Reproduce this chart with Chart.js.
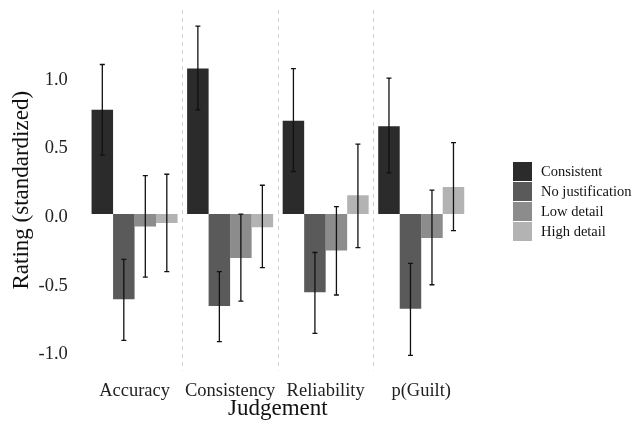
<!DOCTYPE html>
<html>
<head>
<meta charset="utf-8">
<script src="https://cdn.jsdelivr.net/npm/chart.js@4/dist/chart.umd.min.js"></script>
<style>
  html, body { margin: 0; padding: 0; background: #fff; }
  #wrap { width: 634px; height: 425px; }
</style>
</head>
<body>
<div id="wrap"><canvas id="ratingChart" width="634" height="425"></canvas></div>
<script>
const judgements = ["Accuracy", "Consistency", "Reliability", "p(Guilt)"];
const conditions = ["Consistent", "No justification", "Low detail", "High detail"];
const colors = ["#2b2b2b", "#5a5a5a", "#8c8c8c", "#b3b3b3"];

// mean ratings per condition, one value per judgement
const consistent = [0.76, 1.06, 0.68, 0.64];
const noJustification = [-0.62, -0.67, -0.57, -0.69];
const lowDetail = [-0.09, -0.32, -0.265, -0.175];
const highDetail = [-0.065, -0.097, 0.137, 0.197];

// error bar limits (low / high)
const consistentLow = [0.43, 0.76, 0.31, 0.30];
const consistentHigh = [1.09, 1.37, 1.06, 0.99];
const noJustLow = [-0.92, -0.93, -0.87, -1.03];
const noJustHigh = [-0.33, -0.42, -0.28, -0.36];
const lowDetailLow = [-0.46, -0.635, -0.59, -0.515];
const lowDetailHigh = [0.28, 0.0, 0.054, 0.175];
const highDetailLow = [-0.42, -0.39, -0.245, -0.12];
const highDetailHigh = [0.29, 0.21, 0.51, 0.52];

const yTicks = [-1.0, -0.5, 0.0, 0.5, 1.0];

const means = [consistent, noJustification, lowDetail, highDetail];
const errLow = [consistentLow, noJustLow, lowDetailLow, highDetailLow];
const errHigh = [consistentHigh, noJustHigh, lowDetailHigh, highDetailHigh];

const serif = "'Liberation Serif', 'DejaVu Serif', serif";

const separators = {
  id: "separators",
  beforeDatasetsDraw(chart) {
    const { ctx, chartArea, scales: { x } } = chart;
    ctx.save();
    ctx.strokeStyle = "#cfcfcf";
    ctx.lineWidth = 1;
    ctx.setLineDash([4, 4]);
    for (let i = 0; i < judgements.length - 1; i++) {
      const px = Math.round((x.getPixelForValue(i) + x.getPixelForValue(i + 1)) / 2) + 0.5;
      ctx.beginPath();
      ctx.moveTo(px, chartArea.top);
      ctx.lineTo(px, chartArea.bottom);
      ctx.stroke();
    }
    ctx.restore();
  }
};

const errorBars = {
  id: "errorBars",
  afterDatasetsDraw(chart) {
    const { ctx, scales: { y } } = chart;
    ctx.save();
    ctx.strokeStyle = "#111";
    ctx.lineWidth = 1.3;
    chart.data.datasets.forEach((ds, di) => {
      const meta = chart.getDatasetMeta(di);
      meta.data.forEach((bar, i) => {
        const cx = bar.x;
        const top = y.getPixelForValue(errHigh[di][i]);
        const bot = y.getPixelForValue(errLow[di][i]);
        ctx.beginPath();
        ctx.moveTo(cx, top);
        ctx.lineTo(cx, bot);
        ctx.moveTo(cx - 2.5, top);
        ctx.lineTo(cx + 2.5, top);
        ctx.moveTo(cx - 2.5, bot);
        ctx.lineTo(cx + 2.5, bot);
        ctx.stroke();
      });
    });
    ctx.restore();
  }
};

const sideLegend = {
  id: "sideLegend",
  afterDraw(chart) {
    const { ctx } = chart;
    ctx.save();
    ctx.font = "14.5px " + serif;
    ctx.textBaseline = "middle";
    chart.data.datasets.forEach((ds, i) => {
      const top = 162 + i * 20;
      ctx.fillStyle = ds.backgroundColor;
      ctx.fillRect(513, top, 19, 19);
      ctx.fillStyle = "#111";
      ctx.fillText(ds.label, 541, top + 10);
    });
    ctx.restore();
  }
};

new Chart(document.getElementById("ratingChart"), {
  type: "bar",
  data: {
    labels: judgements,
    datasets: conditions.map((c, i) => ({
      label: c,
      data: means[i],
      backgroundColor: colors[i],
      borderWidth: 0,
      barPercentage: 1,
      categoryPercentage: 0.9
    }))
  },
  options: {
    responsive: false,
    animation: false,
    layout: { padding: { top: 10, right: 165, left: 10.5, bottom: 0 } },
    plugins: {
      legend: { display: false },
      tooltip: { enabled: false }
    },
    scales: {
      x: {
        grid: { display: false, drawTicks: false },
        border: { display: false },
        afterFit: (s) => { s.paddingLeft = 0; s.paddingRight = 0; s.height -= s.options.ticks.padding; },
        ticks: {
          color: "#222", maxRotation: 0, minRotation: 0, autoSkip: false,
          font: { family: serif, size: 18.5, lineHeight: "16px" }, padding: 12.5
        },
        title: {
          display: true, text: "Judgement", color: "#111",
          font: { family: serif, size: 23, lineHeight: "13px" },
          padding: { top: 3.5, bottom: 9.5 }
        }
      },
      y: {
        min: -1.14,
        max: 1.487,
        grid: { display: false, drawTicks: false },
        border: { display: false },
        afterBuildTicks: (s) => { s.ticks = yTicks.map(v => ({ value: v })); },
        afterFit: (s) => { s.paddingTop = 0; s.paddingBottom = 0; s.width -= s.options.ticks.padding; },
        ticks: {
          color: "#222",
          font: { family: serif, size: 18.5 },
          padding: 19,
          labelOffset: 3,
          callback: (v) => Number(v).toFixed(1)
        },
        title: {
          display: true, text: "Rating (standardized)", color: "#111",
          font: { family: serif, size: 23, lineHeight: "23px" },
          padding: { top: 0, bottom: 5 }
        }
      }
    }
  },
  plugins: [separators, errorBars, sideLegend]
});
</script>
</body>
</html>
